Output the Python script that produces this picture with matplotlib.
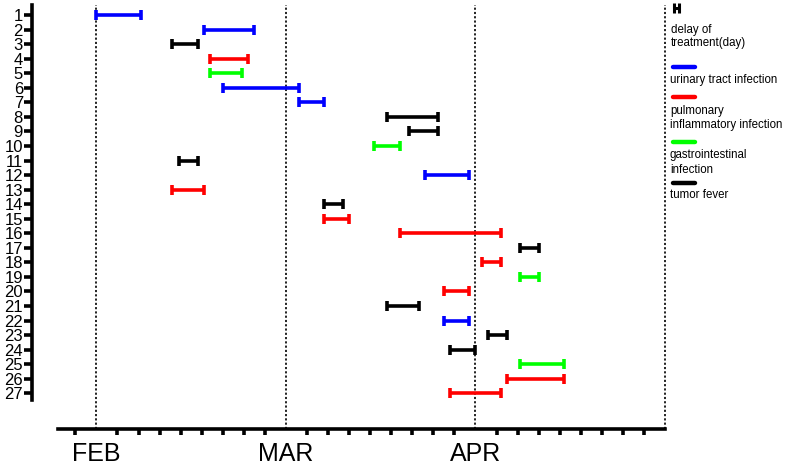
import numpy as np
import matplotlib.pyplot as plt

plt.rcParams['font.family'] = ['Liberation Sans', 'DejaVu Sans']

# patient rows, start/end of delay in days (month = 30 days, FEB = 0)
patients = list(range(1, 28))
start = [0, 17, 12, 18, 18, 20, 32, 46, 49.5, 44, 13, 52, 12, 36, 36,
         48, 67, 61, 67, 55, 46, 55, 62, 56, 67, 65, 56]
end = [7, 25, 16, 24, 23, 32, 36, 54, 54, 48, 16, 59, 17, 39, 40,
       64, 70, 64, 70, 59, 51, 59, 65, 60, 74, 74, 64]
kind = ['uti', 'uti', 'tumor', 'pulm', 'gi', 'uti', 'uti', 'tumor', 'tumor', 'gi',
        'tumor', 'uti', 'pulm', 'tumor', 'pulm', 'pulm', 'tumor', 'pulm', 'gi', 'pulm',
        'tumor', 'uti', 'tumor', 'tumor', 'gi', 'pulm', 'pulm']

colors = {'uti': '#0000ff', 'pulm': '#ff0000', 'gi': '#00ff00', 'tumor': '#000000'}
legend_names = [('uti', ['urinary tract infection']),
                ('pulm', ['pulmonary', 'inflammatory infection']),
                ('gi', ['gastrointestinal', 'infection']),
                ('tumor', ['tumor fever'])]

months = ['FEB', 'MAR', 'APR']
month_pos = [0, 30, 60]

W, H = 787, 465
fig = plt.figure(figsize=(W / 100, H / 100), dpi=100)

def px(x0, y0, x1, y1):
    return [x0 / W, 1 - y1 / H, (x1 - x0) / W, (y1 - y0) / H]

ax = fig.add_axes(px(32, 5, 665, 429))

start = np.array(start)
end = np.array(end)
for p, s, e, k in zip(patients, start, end, kind):
    mid = (s + e) / 2
    ax.errorbar([mid], [p], xerr=[[mid - s], [e - mid]], fmt='none',
                ecolor=colors[k], elinewidth=2.6, capsize=3.6, capthick=2.6)

for m in month_pos:
    ax.axvline(m, color='#222222', lw=1.4, ls=(0, (1.1, 1.1)), zorder=0)
ax.axvline(90, color='#222222', lw=1.4, ls=(0, (1.1, 1.1)), zorder=0, clip_on=False)

ax.set_xlim(-10.2, 90)
ax.set_ylim(29.45, 0.31)

ax.spines['top'].set_visible(False)
ax.spines['right'].set_visible(False)
ax.spines['left'].set_linewidth(2.6)
ax.spines['bottom'].set_linewidth(2.6)
ax.spines['left'].set_bounds(0.31, 27.46)
ax.spines['bottom'].set_bounds(-6.1, 90)

ax.set_yticks(patients)
ax.set_yticklabels([str(p) for p in patients], fontsize=12)
ax.tick_params(axis='y', length=6, width=2.6, pad=0.5)

minor = [k * 10 / 3 for k in range(-1, 27) if k not in (0, 9, 18)]
ax.set_xticks(month_pos)
ax.set_xticklabels(months, fontsize=18)
ax.set_xticks(minor, minor=True)
ax.tick_params(axis='x', which='major', length=0, pad=9)
ax.tick_params(axis='x', which='minor', length=4, width=2.6)

# legend drawn in pixel coordinates
lg = fig.add_axes([0, 0, 1, 1])
lg.set_xlim(0, W)
lg.set_ylim(H, 0)
lg.axis('off')
lg.errorbar([676.5], [8], xerr=[[2.5], [2.5]], fmt='none', ecolor='black',
            elinewidth=2.2, capsize=3.5, capthick=2.2)
fs = 8.3
lg.text(671, 30, 'delay of', fontsize=fs, va='center')
lg.text(671, 43, 'treatment(day)', fontsize=fs, va='center')
line_y = [66.7, 96.7, 141.7, 182.7]
text_y = [[80], [111, 125], [155, 170], [195]]
for (k, names), ly, tys in zip(legend_names, line_y, text_y):
    lg.plot([673, 695], [ly, ly], color=colors[k], lw=3.2, solid_capstyle='round')
    for t, ty in zip(names, tys):
        lg.text(670, ty, t, fontsize=fs, va='center')

fig.savefig('out.png', dpi=100)
